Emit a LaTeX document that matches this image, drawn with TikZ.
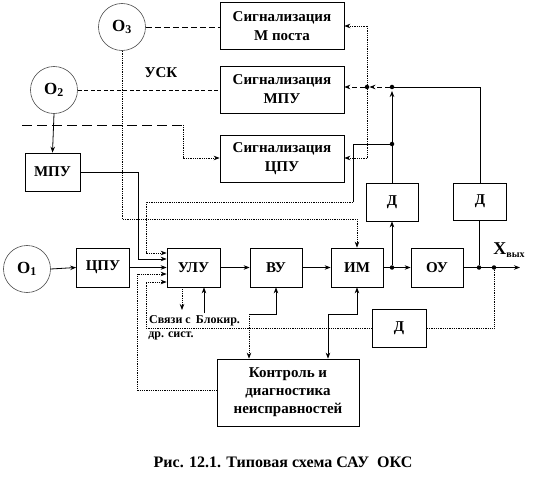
\documentclass[tikz,border=0pt]{standalone}
\usepackage{fontspec}
\setmainfont{Liberation Serif}
\usetikzlibrary{arrows.meta}
\tikzset{
  blk/.style={draw, line width=0.7pt, inner sep=0pt, align=center, font=\fontsize{15}{19}\selectfont\bfseries},
  src/.style={draw=black!70, circle, line width=0.6pt, inner sep=0pt, minimum size=47pt, font=\fontsize{17}{18}\selectfont\bfseries},
  ln/.style={line width=0.8pt},
  dl/.style={line width=0.8pt, densely dotted},
  dsh/.style={line width=0.8pt, dash pattern=on 6pt off 3pt},
  arr/.style={-{Stealth[length=6pt,width=4.5pt]}},
  darr/.style={{Stealth[length=6pt,width=4.5pt]}-{Stealth[length=6pt,width=4.5pt]}},
  jdot/.style={circle, fill=black, inner sep=0pt, minimum size=4.5pt},
  lbl/.style={inner sep=0pt, font=\fontsize{15}{16}\selectfont\bfseries},
  sml/.style={inner sep=0pt, font=\fontsize{12}{12}\selectfont\bfseries}
}
\begin{document}
\begin{tikzpicture}[x=1pt,y=-1pt]
\useasboundingbox (0,0) rectangle (542,487);
% sources
\node[src] (o3) at (122,27) {O\textsubscript{3}};
\node[src] (o2) at (54,90) {O\textsubscript{2}};
\node[src] (o1) at (27,269) {O\textsubscript{1}};
% signalling boxes
\node[blk, minimum width=124pt, minimum height=47pt] (sm) at (282,26) {Сигнализация\\М поста};
\node[blk, minimum width=124pt, minimum height=47pt] (smpu) at (282,89.5) {Сигнализация\\МПУ};
\node[blk, minimum width=124pt, minimum height=47pt] (scpu) at (282,158.5) {Сигнализация\\ЦПУ};
% blocks
\node[blk, minimum width=55pt, minimum height=38pt] (mpu) at (52.5,172) {МПУ};
\node[blk, minimum width=52pt, minimum height=38pt] (d1) at (392,202) {Д};
\node[blk, minimum width=53pt, minimum height=37pt] (d2) at (480,201.5) {Д};
\node[blk, minimum width=53pt, minimum height=39pt] (cpu) at (103,267.5) {ЦПУ};
\node[blk, minimum width=53pt, minimum height=39pt] (ulu) at (193.5,267.5) {УЛУ};
\node[blk, minimum width=52pt, minimum height=39pt] (vu) at (276,267.5) {ВУ};
\node[blk, minimum width=52pt, minimum height=39pt] (im) at (357,267.5) {ИМ};
\node[blk, minimum width=52pt, minimum height=39pt] (ou) at (437,267.5) {ОУ};
\node[blk, minimum width=54pt, minimum height=38pt] (d3) at (399,328) {Д};
\node[blk, minimum width=142pt, minimum height=67pt, font=\fontsize{15}{18}\selectfont\bfseries] (kd) at (288,392.5) {Контроль и\\диагностика\\неисправностей};
% labels
\node[lbl] (usk) at (161,73) {УСК};
\node[lbl] (xout) at (509,250) {{\fontsize{18}{18}\selectfont X}\raisebox{-0.5ex}{\fontsize{10}{10}\selectfont вых}};
\node[sml] (svz) at (170,320) {Связи с};
\node[sml] (blk) at (218,321) {Блокир.};
\node[sml] (drs) at (171,336) {др. сист.};
\node[lbl, font=\fontsize{16}{16}\selectfont\bfseries] (cap) at (283,462) {Рис. 12.1. Типовая схема САУ\ \ ОКС};
% junctions
\node[jdot] (j1) at (392,267.5) {};
\node[jdot] (j2) at (479,267.5) {};
\node[jdot] (j3) at (494,267.5) {};
\node[jdot] (j4) at (392,87) {};
\node[jdot] (j5) at (367,87) {};
\node[jdot] (j6) at (392,144) {};
\coordinate (out) at (520,267.5);
\coordinate (dfree) at (22,125);
\coordinate (dcorner) at (183,125);
\coordinate (svzend) at (182,310);
\coordinate (blkend) at (204,313);
% O3, O2 links
\draw[dsh] (o3.east) -- (o3.east -| sm.west);
\draw[dsh, dash pattern=on 4pt off 2.5pt] (o2.east) -- (o2.east -| smpu.west);
\draw[ln, arr] (o2.south) -- (mpu.north);
\draw[dsh, dash pattern=on 10pt off 5pt] (dfree) -- (dcorner);
\draw[dl, arr] (dcorner) -- (183,158) -- (scpu.west |- 0,158);
\draw[dl, arr] (o3.south) -- (122,219) -- (357,219) -- (im.north);
\draw[ln, arr] (mpu.east |- 0,172) -- (138,172) -- (138,259) -- (ulu.west |- 0,259);
% main chain
\draw[ln, arr] (o1.east) -- (cpu.west);
\draw[ln, arr] (cpu.east) -- (ulu.west);
\draw[ln, arr] (ulu.east) -- (vu.west);
\draw[ln, arr] (vu.east) -- (im.west);
\draw[ln] (im.east) -- (j1);
\draw[ln, arr] (j1) -- (ou.west);
\draw[ln] (ou.east) -- (j2) -- (j3);
\draw[ln, arr] (j3) -- (out);
\draw[ln, arr] (j1) -- (d1.south);
\draw[ln] (d2.south -| j2) -- (j2);
% sensors to signalling
\draw[ln] (d2.north) -- (480,87) -- (j4);
\draw[ln, arr, shorten >=1.5pt] (d1.north) -- (j4);
\draw[dsh, dash pattern=on 5pt off 3pt, arr] (j4) -- (j5);
\draw[dsh, dash pattern=on 5pt off 3pt, arr] (j5) -- (smpu.east |- j5);
\draw[dl, arr] (367,26) -- (sm.east |- 0,26);
\draw[dl] (367,26) -- (367,158);
\draw[dl, arr] (367,158) -- (scpu.east |- 0,158);
\draw[ln] (j6) -- (353,144) -- (353,202);
\draw[dl, arr] (353,202) -- (146,202) -- (146,253) -- (ulu.west |- 0,253);
% feedback
\draw[dl] (j3) -- (494,328) -- (d3.east);
\draw[dl, arr] (d3.west) -- (146,328) -- (146,282) -- (ulu.west |- 0,282);
\draw[dl, arr] (kd.west |- 0,390) -- (137,390) -- (137,274) -- (ulu.west |- 0,274);
% ULU bottom
\draw[dl, arr] (ulu.south -| svzend) -- (svzend);
\draw[ln, arr] (blkend) -- (ulu.south -| blkend);
% control links
\draw[ln, {Stealth[length=6pt,width=4.5pt]}-] (vu.south) -- (276,314) -- (249,314);
\draw[dl, arr] (249,314) -- (kd.north -| 249,0);
\draw[ln, darr] (im.south) -- (357,314) -- (328,314) -- (kd.north -| 328,0);
\end{tikzpicture}
\end{document}
